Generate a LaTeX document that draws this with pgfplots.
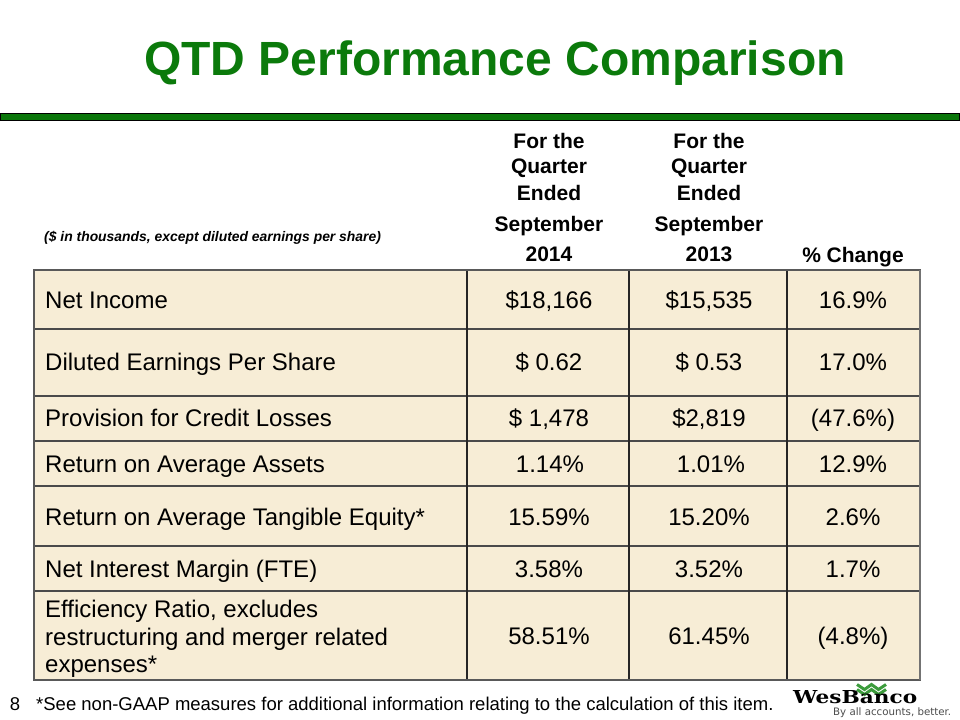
\documentclass[border=0pt]{standalone}
\usepackage{pgfplots}
\pgfplotsset{compat=1.18}
\usepackage{fontspec}
\usepackage{graphicx}
\setmainfont{Liberation Sans}
\newfontfamily\logofont{DejaVu Serif}
\newfontfamily\tagfont{DejaVu Sans}
\definecolor{titlegreen}{HTML}{0B7A0B}
\definecolor{bargreen}{HTML}{0A760A}
\definecolor{parch}{HTML}{F7EDD6}
\definecolor{gridc}{HTML}{4A4A4A}
\definecolor{logogreen}{HTML}{3C9C3C}
\tikzset{hdr/.style={anchor=base, inner sep=0pt, font=\fontsize{21bp}{25bp}\bfseries}}
\begin{document}
\begin{tikzpicture}
\begin{axis}[
  width=960bp, height=720bp, scale only axis,
  xmin=0, xmax=960, ymin=0, ymax=720, y dir=reverse,
  hide axis, clip=false,
]
% page background
\fill[white] (0,0) rectangle (960,720);
% title
\node[anchor=base, inner sep=0pt, text=titlegreen, font=\fontsize{48bp}{50bp}\bfseries] at (495,75.5) {QTD Performance Comparison};
% green bar
\filldraw[fill=bargreen, draw=black, line width=1.2bp] (0.6,113.8) rectangle (959.4,120.8);
% header
\node[anchor=base west, inner sep=0pt, font=\fontsize{13.9bp}{16bp}\bfseries\itshape] at (44,241) {(\$ in thousands, except diluted earnings per share)};
\node[hdr] at (549,149) {For the};
\node[hdr] at (549,174) {Quarter};
\node[hdr] at (549,200) {Ended};
\node[hdr] at (549,231) {September};
\node[hdr] at (549,261) {2014};
\node[hdr] at (709,149) {For the};
\node[hdr] at (709,174) {Quarter};
\node[hdr] at (709,200) {Ended};
\node[hdr] at (709,231) {September};
\node[hdr] at (709,261) {2013};
\node[hdr] at (853,262.5) {\% Change};
% table body
\fill[parch] (34,270) rectangle (920,680);
\draw[gridc, line width=1.3bp] (34,329) -- (920,329);
\draw[gridc, line width=1.3bp] (34,396) -- (920,396);
\draw[gridc, line width=1.3bp] (34,441) -- (920,441);
\draw[gridc, line width=1.3bp] (34,486) -- (920,486);
\draw[gridc, line width=1.3bp] (34,546) -- (920,546);
\draw[gridc, line width=1.3bp] (34,591) -- (920,591);
\draw[black!85, line width=1.1bp] (467,270) -- (467,680);
\draw[black!85, line width=1.1bp] (629,270) -- (629,680);
\draw[black!85, line width=1.1bp] (787,270) -- (787,680);
\draw[black!65, line width=1.5bp] (34,270) rectangle (920,680);
\draw[black!55, line width=2bp] (920,270) -- (920,680);
% row labels
\begin{scope}[every node/.style={inner sep=0pt, font=\fontsize{24bp}{27.5bp}\selectfont}]
\node[anchor=base west] at (45,308.5) {Net Income};
\node[anchor=base west] at (45,370.5) {Diluted Earnings Per Share};
\node[anchor=base west] at (45,426.5) {Provision for Credit Losses};
\node[anchor=base west] at (45,472.5) {Return on Average Assets};
\node[anchor=base west] at (45,525.5) {Return on Average Tangible Equity*};
\node[anchor=base west] at (45,577.5) {Net Interest Margin (FTE)};
\node[anchor=base west] at (45,617) {Efficiency Ratio, excludes};
\node[anchor=base west] at (45,645) {restructuring and merger related};
\node[anchor=base west] at (45,672) {expenses*};
% values
\node[anchor=base] at (549,308.5) {\$18,166};
\node[anchor=base] at (709,308.5) {\$15,535};
\node[anchor=base] at (853,308.5) {16.9\%};
\node[anchor=base] at (549,370.5) {\$ 0.62};
\node[anchor=base] at (709,370.5) {\$ 0.53};
\node[anchor=base] at (853,370.5) {17.0\%};
\node[anchor=base] at (549,426.5) {\$ 1,478};
\node[anchor=base] at (709,426.5) {\$2,819};
\node[anchor=base] at (853,426.5) {(47.6\%)};
\node[anchor=base] at (550,472.5) {1.14\%};
\node[anchor=base] at (711,472.5) {1.01\%};
\node[anchor=base] at (853,472.5) {12.9\%};
\node[anchor=base] at (549,525.5) {15.59\%};
\node[anchor=base] at (709,525.5) {15.20\%};
\node[anchor=base] at (853,525.5) {2.6\%};
\node[anchor=base] at (549,577.5) {3.58\%};
\node[anchor=base] at (709,577.5) {3.52\%};
\node[anchor=base] at (853,577.5) {1.7\%};
\node[anchor=base] at (549,644.5) {58.51\%};
\node[anchor=base] at (709,644.5) {61.45\%};
\node[anchor=base] at (853,644.5) {(4.8\%)};
\end{scope}
% footer
\node[anchor=base, inner sep=0pt, font=\fontsize{18.5bp}{22bp}\selectfont] at (15,710) {8};
\node[anchor=base west, inner sep=0pt, font=\fontsize{18.5bp}{22bp}\selectfont] at (36,710) {*See non-GAAP measures for additional information relating to the calculation of this item.};
% logo
\draw[logogreen, line width=3bp, line join=miter] (857,684.5) -- (864.5,689.5) -- (871.5,684.5) -- (878.5,689.5) -- (886,684.5);
\draw[logogreen, line width=3bp, line join=miter] (857,689.5) -- (864.5,694.5) -- (871.5,689.5) -- (878.5,694.5) -- (886,689.5);
\node[anchor=base west, inner sep=0pt] at (793,703) {\resizebox{124bp}{13bp}{\logofont\bfseries WesBanco}};
\node[anchor=base west, inner sep=0pt, text=black!70] at (833,715) {\resizebox{118bp}{!}{\tagfont\fontsize{9bp}{11bp}\selectfont By all accounts, better.}};
\end{axis}
\end{tikzpicture}
\end{document}
